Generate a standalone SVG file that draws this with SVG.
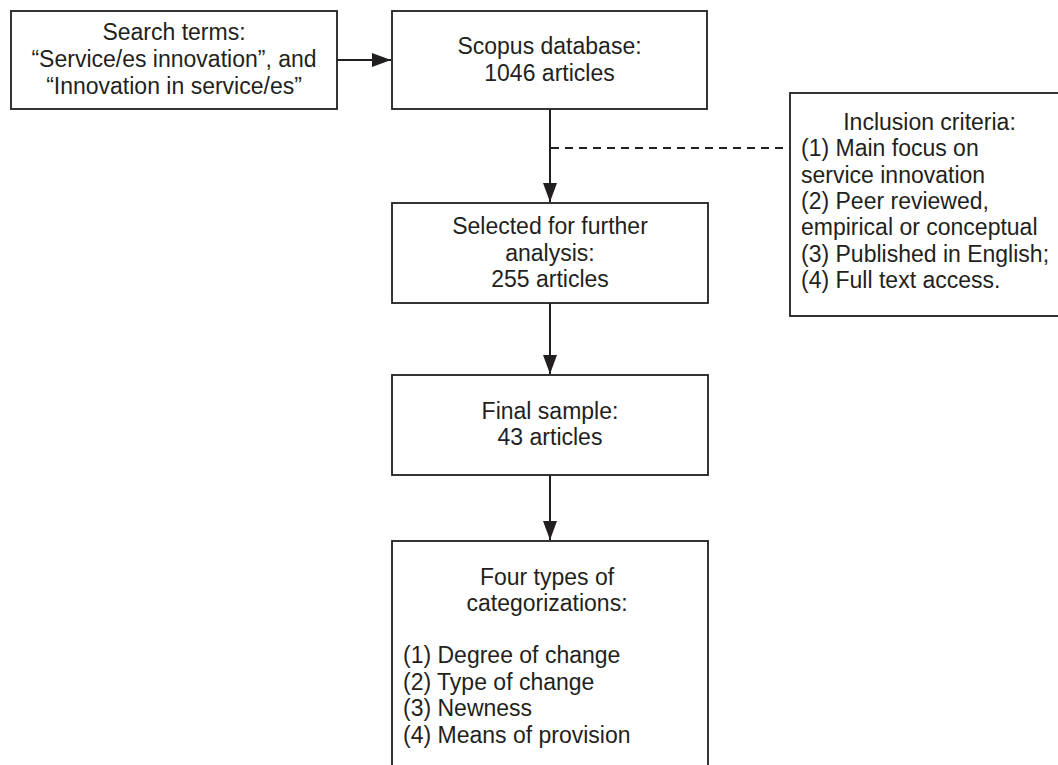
<svg xmlns="http://www.w3.org/2000/svg" width="1058" height="765" viewBox="0 0 1058 765">
<style>
  .box { fill: #ffffff; stroke: #231f20; stroke-width: 1.8; }
  .t { font-family: "Liberation Sans", Arial, Helvetica, sans-serif; font-size: 23px; fill: #231f20; }
  .c { text-anchor: middle; }
  .conn { stroke: #231f20; stroke-width: 2; fill: none; }
  .dash { stroke: #231f20; stroke-width: 1.8; fill: none; stroke-dasharray: 8 6; }
</style>
<defs>
  <marker id="arrow" markerWidth="20" markerHeight="14" refX="19" refY="7" orient="auto" markerUnits="userSpaceOnUse">
    <path d="M0,0 L19,7 L0,14 Z" fill="#231f20"/>
  </marker>
  <filter id="blur" x="-10%" y="-200%" width="120%" height="500%">
    <feGaussianBlur stdDeviation="1.5"/>
  </filter>
</defs>
<rect width="1058" height="765" fill="#ffffff"/>

<g id="connectors">
  <line class="conn" x1="337" y1="60" x2="391" y2="60" marker-end="url(#arrow)"/>
  <line class="conn" x1="550" y1="109" x2="550" y2="202" marker-end="url(#arrow)"/>
  <line x1="575" y1="154" x2="789" y2="154" stroke="#c8c8c8" stroke-width="3" stroke-dasharray="8 6" filter="url(#blur)"/>
  <line class="dash" x1="551" y1="148" x2="790" y2="148"/>
  <line class="conn" x1="550" y1="303" x2="550" y2="374" marker-end="url(#arrow)"/>
  <line class="conn" x1="550" y1="475" x2="550" y2="540" marker-end="url(#arrow)"/>
</g>

<g id="search">
  <rect class="box" x="11" y="11" width="326" height="98"/>
  <text class="t c" x="174" y="40">Search terms:</text>
  <text class="t c" x="174" y="67">“Service/es innovation”, and</text>
  <text class="t c" x="174" y="94">“Innovation in service/es”</text>
</g>

<g id="scopus">
  <rect class="box" x="392" y="11" width="315" height="98"/>
  <text class="t c" x="549.5" y="54">Scopus database:</text>
  <text class="t c" x="549.5" y="81">1046 articles</text>
</g>

<g id="inclusion">
  <rect class="box" x="790" y="93" width="290" height="223"/>
  <text class="t c" x="929.5" y="130">Inclusion criteria:</text>
  <text class="t" x="801" y="156.3">(1) Main focus on</text>
  <text class="t" x="801" y="182.6">service innovation</text>
  <text class="t" x="801" y="208.9">(2) Peer reviewed,</text>
  <text class="t" x="801" y="235.2">empirical or conceptual</text>
  <text class="t" x="801" y="261.5">(3) Published in English;</text>
  <text class="t" x="801" y="287.8">(4) Full text access.</text>
</g>

<g id="selected">
  <rect class="box" x="392" y="203" width="316" height="100"/>
  <text class="t c" x="550" y="234">Selected for further</text>
  <text class="t c" x="550" y="261">analysis:</text>
  <text class="t c" x="550" y="287">255 articles</text>
</g>

<g id="final">
  <rect class="box" x="392" y="375" width="316" height="100"/>
  <text class="t c" x="550" y="419">Final sample:</text>
  <text class="t c" x="550" y="445">43 articles</text>
</g>

<g id="categorizations">
  <rect class="box" x="392" y="541" width="316" height="260"/>
  <text class="t c" x="547" y="585">Four types of</text>
  <text class="t c" x="547" y="611">categorizations:</text>
  <text class="t" x="403" y="663">(1) Degree of change</text>
  <text class="t" x="403" y="690">(2) Type of change</text>
  <text class="t" x="403" y="716">(3) Newness</text>
  <text class="t" x="403" y="743">(4) Means of provision</text>
</g>
</svg>
